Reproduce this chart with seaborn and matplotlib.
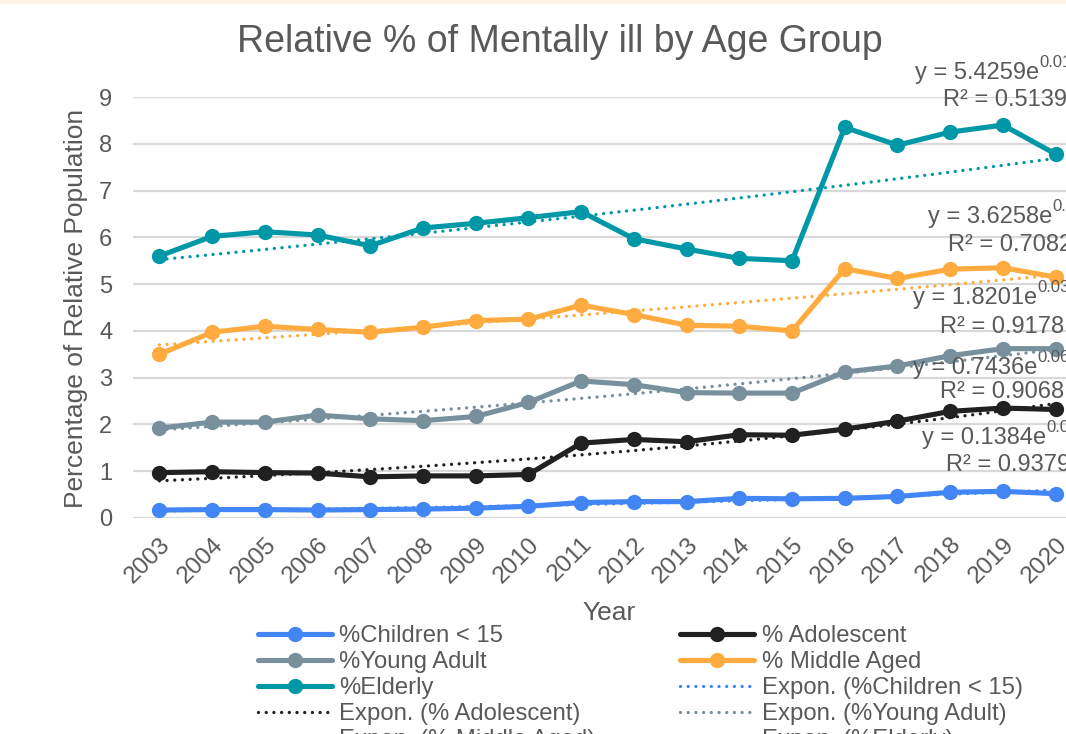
import numpy as np
import pandas as pd
import matplotlib
matplotlib.use("Agg")
import matplotlib.pyplot as plt
from matplotlib.lines import Line2D
from matplotlib.patches import Rectangle
import matplotlib.transforms as mtransforms
import seaborn as sns

years = list(range(2003, 2021))
children = [0.17, 0.18, 0.18, 0.17, 0.18, 0.19, 0.21, 0.25, 0.33, 0.35, 0.35, 0.42, 0.41, 0.42, 0.46, 0.55, 0.57, 0.52]
adolescent = [0.97, 0.99, 0.97, 0.96, 0.88, 0.90, 0.90, 0.93, 1.60, 1.68, 1.63, 1.78, 1.77, 1.90, 2.07, 2.28, 2.35, 2.32]
young_adult = [1.92, 2.05, 2.05, 2.20, 2.12, 2.08, 2.17, 2.47, 2.93, 2.85, 2.68, 2.67, 2.67, 3.12, 3.25, 3.47, 3.62, 3.62]
middle_aged = [3.50, 3.97, 4.10, 4.03, 3.97, 4.08, 4.22, 4.25, 4.55, 4.35, 4.12, 4.10, 4.00, 5.33, 5.12, 5.32, 5.35, 5.15]
elderly = [5.60, 6.02, 6.12, 6.05, 5.82, 6.20, 6.30, 6.42, 6.55, 5.97, 5.75, 5.55, 5.50, 8.35, 7.97, 8.25, 8.40, 7.78]

series_names = ["%Children < 15", "% Adolescent", "%Young Adult", "% Middle Aged", "%Elderly"]
series_values = [children, adolescent, young_adult, middle_aged, elderly]
series_colors = ["#4285F4", "#212121", "#78909C", "#FFAB40", "#0097A7"]

# trendline equation labels (as printed on the chart)
eq_coef = ["0.1384", "0.7436", "1.8201", "3.6258", "5.4259"]
eq_exp = ["0.0815x", "0.0639x", "0.0376x", "0.0193x", "0.0198x"]
eq_r2 = ["0.9379", "0.9068", "0.9178", "0.7082", "0.5139"]

TXT = "#595959"
sns.set_style("white")
plt.rcParams["font.family"] = ["Liberation Sans", "DejaVu Sans"]

W, H = 1066, 734
fig = plt.figure(figsize=(W / 100, H / 100), dpi=100)
fig.patches.append(Rectangle((0, 1 - 3 / H), 1, 3 / H, transform=fig.transFigure,
                             color="#fdf0e4", zorder=0))

ax = fig.add_axes([133 / W, 1 - 518 / H, (1082 - 133) / W, (518 - 97) / H])
idx = np.arange(len(years))

df = pd.DataFrame({"idx": idx})
for name, vals in zip(series_names, series_values):
    df[name] = vals

handles_series = []
handles_trend = []
for name, vals, col in zip(series_names, series_values, series_colors):
    sns.lineplot(data=df, x="idx", y=name, ax=ax, color=col, lw=3.7, marker="o",
                 markersize=11, markeredgewidth=0, zorder=3)
    # exponential trendline (Excel-style: x = 1..n)
    xx = idx + 1
    b, loga = np.polyfit(xx, np.log(vals), 1)
    xs = np.linspace(1, len(vals), 100)
    ax.plot(xs - 1, np.exp(loga) * np.exp(b * xs), color=col, lw=2.4,
            linestyle=(0, (0.01, 2.3)), dash_capstyle="round", zorder=4)
    handles_series.append(Line2D([], [], color=col, lw=3.7, marker="o", markersize=11,
                                 markeredgewidth=0))
    handles_trend.append(Line2D([], [], color=col, lw=2.4, linestyle=(0, (0.01, 2.3)),
                                dash_capstyle="round"))

ax.set_xlim(-0.5, len(years) - 0.5)
ax.set_ylim(0, 9)
ax.set_yticks(range(0, 10))
ax.set_xticks(idx)
ax.set_xticklabels([str(y) for y in years], rotation=45, ha="right", va="top",
                   rotation_mode="anchor", fontsize=17.5, color=TXT)
shift = mtransforms.ScaledTranslation(-5 / 100, 0, fig.dpi_scale_trans)
for lab in ax.get_xticklabels():
    lab.set_transform(lab.get_transform() + shift)
ax.tick_params(axis="x", length=0, pad=11)
ax.tick_params(axis="y", length=0, pad=15, labelsize=17, labelcolor=TXT)
ax.grid(axis="y", color="#d9d9d9", lw=1.6)
ax.grid(axis="x", visible=False)
for s in ax.spines.values():
    s.set_visible(False)
ax.set_xlabel("")
ax.set_ylabel("")

fig.text(560 / W, 1 - 42 / H, "Relative % of Mentally ill by Age Group", ha="center",
         va="center", fontsize=27, color=TXT)
fig.text(76 / W, 1 - 308 / H, "Percentage of Relative Population", rotation=90,
         ha="center", va="center", fontsize=19, color=TXT)
fig.text(609 / W, 1 - 613 / H, "Year", ha="center", va="center", fontsize=19, color=TXT)

# trendline equation labels
eq_pos = [(922, 438, 946, 465), (913, 368, 940, 392), (913, 298, 940, 327),
          (928, 217, 948, 245), (915, 73, 943, 100)]
for (ex, ey, rx, ry), c, e, r in zip(eq_pos, eq_coef, eq_exp, eq_r2):
    t = fig.text(ex / W, 1 - ey / H, f"y = {c}e", ha="left", va="center",
                 fontsize=17, color=TXT)
    ax.annotate(e, xy=(1, 0.62), xycoords=t, ha="left", va="bottom", fontsize=12,
                color=TXT, annotation_clip=False)
    fig.text(rx / W, 1 - ry / H, f"R² = {r}", ha="left", va="center", fontsize=17, color=TXT)

labels = series_names + [f"Expon. ({n})" for n in series_names]
handles = handles_series + handles_trend
order_h = handles[0::2] + handles[1::2]
order_l = labels[0::2] + labels[1::2]
leg = fig.legend(order_h, order_l, loc="upper left", bbox_to_anchor=(258 / W, 1 - 625 / H),
                 ncol=2, frameon=False, fontsize=17.2, handlelength=3.1, handletextpad=0.3,
                 labelspacing=0.17, columnspacing=3.55, borderpad=0, borderaxespad=0)
for txt in leg.get_texts():
    txt.set_color(TXT)

fig.savefig("out.png", dpi=100)
